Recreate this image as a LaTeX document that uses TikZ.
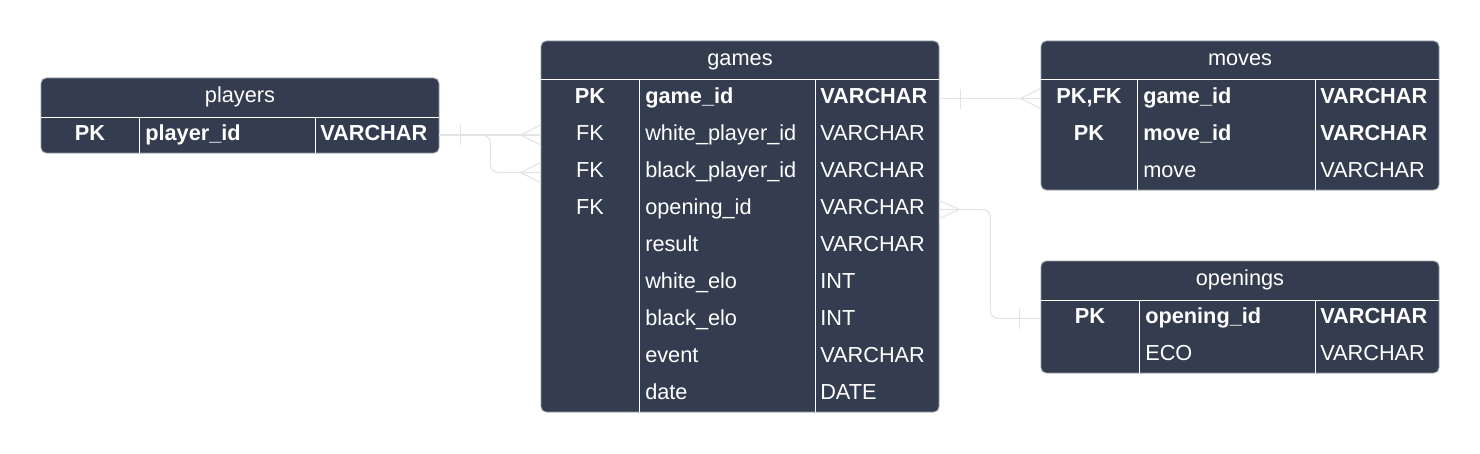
\documentclass[tikz,border=0pt]{standalone}
\usepackage{fontspec}
\setmainfont{Liberation Sans}
\usepackage{xcolor}
\usepackage{tikz}
\usetikzlibrary{shapes,arrows,positioning,calc}

\definecolor{tblfill}{RGB}{51,61,79}
\definecolor{tbledge}{RGB}{150,156,166}
\definecolor{connline}{RGB}{228,228,228}

\tikzset{
    tbl/.style={draw=tbledge, fill=tblfill, rounded corners=4pt, inner sep=0pt, line width=0.6pt},
    title/.style={text=white, inner sep=0pt, text height=12pt, text depth=4.5pt, font=\fontsize{16.3}{19}\selectfont},
    cell/.style={text=white, inner sep=0pt, anchor=west, text height=12pt, text depth=4.5pt, font=\fontsize{16.3}{19}\selectfont},
    key/.style={cell, font=\fontsize{16.3}{19}\selectfont\bfseries},
    sep/.style={white, line width=0.75pt},
    conn/.style={connline, line width=0.8pt, rounded corners=6pt},
    crow/.style={connline, line width=0.8pt},
}

\begin{document}
\begin{tikzpicture}[x=0.75pt, y=-0.75pt]
\useasboundingbox (0,0) rectangle (1480,453);

% tables
\node[tbl, minimum width=298.5pt, minimum height=56.25pt] (players) at (240,115.5) {};
\node[tbl, minimum width=298.5pt, minimum height=278.25pt] (games) at (740,226.5) {};
\node[tbl, minimum width=298.5pt, minimum height=111.75pt] (moves) at (1240,115.5) {};
\node[tbl, minimum width=298.5pt, minimum height=84pt] (openings) at (1240,317) {};

% header lines and column lines
\draw[sep] (41,117) -- (439,117);
\draw[sep] (139,117) -- (139,153) (315,117) -- (315,153);
\draw[sep] (541,80) -- (939,80);
\draw[sep] (639,80) -- (639,412) (815,80) -- (815,412);
\draw[sep] (1041,80) -- (1439,80);
\draw[sep] (1137,80) -- (1137,190) (1315,80) -- (1315,190);
\draw[sep] (1041,300) -- (1439,300);
\draw[sep] (1139,300) -- (1139,373) (1315,300) -- (1315,373);

% players
\node[title] (p-title) at (240,97) {players};
\node[key, anchor=center] (p-pk) at (90,135) {PK};
\node[key] (p-id) at (145,135) {player\_id};
\node[key] (p-type) at (320,135) {VARCHAR};

% games
\node[title] (g-title) at (740,60) {games};
\node[key, anchor=center] (g-pk) at (590,98.5) {PK};
\node[key] (g-id) at (645,98.5) {game\_id};
\node[key] (g-idtype) at (820,98.5) {VARCHAR};
\node[cell, anchor=center] (g-fk1) at (590,135.5) {FK};
\node[cell] (g-white) at (645,135.5) {white\_player\_id};
\node[cell] (g-whitetype) at (820,135.5) {VARCHAR};
\node[cell, anchor=center] (g-fk2) at (590,172.5) {FK};
\node[cell] (g-black) at (645,172.5) {black\_player\_id};
\node[cell] (g-blacktype) at (820,172.5) {VARCHAR};
\node[cell, anchor=center] (g-fk3) at (590,209.5) {FK};
\node[cell] (g-open) at (645,209.5) {opening\_id};
\node[cell] (g-opentype) at (820,209.5) {VARCHAR};
\foreach \n/\f/\t in {5/result/VARCHAR, 6/white\_elo/INT, 7/black\_elo/INT, 8/event/VARCHAR, 9/date/DATE} {
    \node[cell] (g-f\n) at (645,61.5+37*\n) {\f};
    \node[cell] (g-t\n) at (820,61.5+37*\n) {\t};
}

% moves
\node[title] (m-title) at (1240,60) {moves};
\node[key, anchor=center] (m-pk1) at (1089,98.5) {PK,FK};
\node[key] (m-gid) at (1143,98.5) {game\_id};
\node[key] (m-gidtype) at (1320,98.5) {VARCHAR};
\node[key, anchor=center] (m-pk2) at (1089,135.5) {PK};
\node[key] (m-mid) at (1143,135.5) {move\_id};
\node[key] (m-midtype) at (1320,135.5) {VARCHAR};
\node[cell] (m-move) at (1143,172.5) {move};
\node[cell] (m-movetype) at (1320,172.5) {VARCHAR};

% openings
\node[title] (o-title) at (1240,280) {openings};
\node[key, anchor=center] (o-pk) at (1090,318.5) {PK};
\node[key] (o-id) at (1145,318.5) {opening\_id};
\node[key] (o-idtype) at (1320,318.5) {VARCHAR};
\node[cell] (o-eco) at (1145,355.5) {ECO};
\node[cell] (o-ecotype) at (1320,355.5) {VARCHAR};

% relations
\draw[conn] (players.east |- p-type) -- (games.west |- p-type);
\draw[conn] (players.east |- p-type) -- ++(51,0) |- (games.west |- g-black);
\draw[crow] ($(players.east |- p-type)+(21,-10)$) -- ++(0,20);
\draw[crow] ($(games.west |- p-type)+(0,-10)$) -- ++(-20,10) -- ++(20,10);
\draw[crow] ($(games.west |- g-black)+(0,-10)$) -- ++(-20,10) -- ++(20,10);

\draw[conn] (games.east |- g-id) -- (moves.west |- g-id);
\draw[crow] ($(games.east |- g-id)+(21,-10)$) -- ++(0,20);
\draw[crow] ($(moves.west |- g-id)+(0,-10)$) -- ++(-20,10) -- ++(20,10);

\draw[conn] (games.east |- g-open) -- ++(51,0) |- (openings.west |- o-id);
\draw[crow] ($(games.east |- g-open)+(0,-9)$) -- ++(20,9) -- ++(-20,9);
\draw[crow] ($(openings.west |- o-id)+(-21,-10)$) -- ++(0,20);
\end{tikzpicture}
\end{document}
